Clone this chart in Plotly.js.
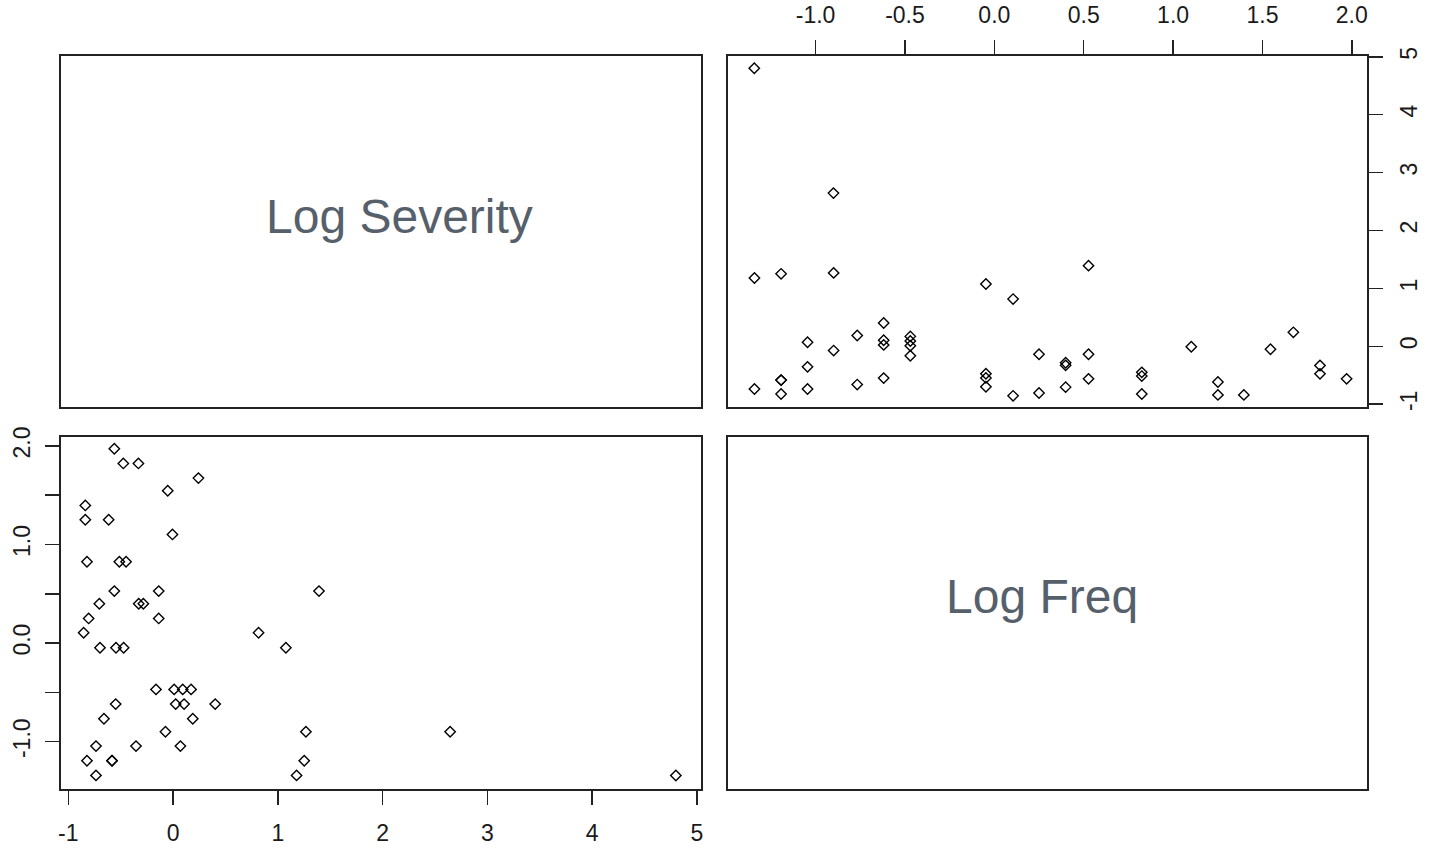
<!DOCTYPE html>
<html>
<head>
<meta charset="utf-8">
<script src="https://cdn.plot.ly/plotly-3.0.1.min.js"></script>
<style>
html,body{margin:0;padding:0;background:#fff;}
#chart{width:1429px;height:849px;}
</style>
</head>
<body>
<div id="chart"></div>
<script>
// Data: each point is (Log Severity, Log Freq)
const logSeverity = [
  -0.561, -0.475, -0.331, 0.242, -0.051, -0.838, -0.838, -0.615, -0.006,
  -0.822, -0.513, -0.449, -0.561, -0.137, 1.393, -0.704, -0.328, -0.284,
  -0.806, -0.137, -0.854, 0.816, -0.698, -0.545, -0.472, 1.077,
  -0.163, 0.010, 0.092, 0.172, -0.548, 0.025, 0.105, 0.402,
  -0.660, 0.188, -0.073, 1.268, 2.645, -0.736, -0.354, 0.070,
  -0.822, -0.583, -0.583, 1.252, -0.736, 1.179, 4.800
];
const logFreq = [
  1.971, 1.822, 1.822, 1.673, 1.545, 1.396, 1.251, 1.251, 1.102,
  0.825, 0.825, 0.825, 0.527, 0.527, 0.527, 0.399, 0.399, 0.399,
  0.250, 0.250, 0.105, 0.105, -0.047, -0.047, -0.047, -0.047,
  -0.470, -0.470, -0.470, -0.470, -0.619, -0.619, -0.619, -0.619,
  -0.767, -0.767, -0.899, -0.899, -0.900, -1.045, -1.045, -1.045,
  -1.193, -1.193, -1.193, -1.193, -1.342, -1.342, -1.343
];
const varNames = ["Log Severity", "Log Freq"];
const sevTicks = [-1, 0, 1, 2, 3, 4, 5];
const sevTickText = ["-1", "0", "1", "2", "3", "4", "5"];
const freqTicks = [-1, -0.5, 0, 0.5, 1, 1.5, 2];
const freqTickTextTop = ["-1.0", "-0.5", "0.0", "0.5", "1.0", "1.5", "2.0"];
const freqTickTextLeft = ["-1.0", "", "0.0", "", "1.0", "", "2.0"];

const W = 1429, H = 849;
const FONT = "Liberation Sans, Arial, sans-serif";
const px = v => v / W;
const py = v => 1 - v / H;

const marker = {symbol: "diamond-open", size: 8, color: "#000", line: {color: "#000", width: 1.4}};

const traces = [
  {type: "scatter", mode: "markers", x: logSeverity, y: logFreq, xaxis: "x", yaxis: "y", marker: marker, hoverinfo: "x+y"},
  {type: "scatter", mode: "markers", x: logFreq, y: logSeverity, xaxis: "x2", yaxis: "y2", marker: marker, hoverinfo: "x+y"}
];

const L = [61, 701], R = [728, 1367];
const T = [56, 407], B = [437, 789];

const base = {
  showgrid: false, zeroline: false, showline: true, mirror: true,
  linecolor: "#222", linewidth: 2,
  ticks: "outside", ticklen: 14, tickwidth: 1.6, tickcolor: "#222",
  tickfont: {family: FONT, size: 23, color: "#1a1a1a"}
};
const empty = Object.assign({}, base, {ticks: "", showticklabels: false, range: [0, 1], fixedrange: true});

const layout = {
  width: W, height: H,
  margin: {l: 0, r: 0, t: 0, b: 0},
  paper_bgcolor: "#fff", plot_bgcolor: "#fff",
  showlegend: false,
  font: {family: FONT},
  xaxis: Object.assign({}, base, {domain: [px(L[0]), px(L[1])], anchor: "y", side: "bottom",
    range: [-1.07, 5.04], tickmode: "array", tickvals: sevTicks, ticktext: sevTickText, ticklabelstandoff: 8}),
  yaxis: Object.assign({}, base, {domain: [py(B[1]), py(B[0])], anchor: "x", side: "left",
    range: [-1.48, 2.09], tickmode: "array", tickvals: freqTicks, ticktext: freqTickTextLeft, tickangle: -90, ticklabelstandoff: 6}),
  xaxis2: Object.assign({}, base, {domain: [px(R[0]), px(R[1])], anchor: "y2", side: "top",
    range: [-1.49, 2.085], tickmode: "array", tickvals: freqTicks, ticktext: freqTickTextTop, ticklabelstandoff: 8}),
  yaxis2: Object.assign({}, base, {domain: [py(T[1]), py(T[0])], anchor: "x2", side: "right",
    range: [-1.047, 5.012], tickmode: "array", tickvals: sevTicks, ticktext: sevTickText, tickangle: -90, ticklabelstandoff: 6}),
  xaxis3: Object.assign({}, empty, {domain: [px(L[0]), px(L[1])], anchor: "y3"}),
  yaxis3: Object.assign({}, empty, {domain: [py(T[1]), py(T[0])], anchor: "x3"}),
  xaxis4: Object.assign({}, empty, {domain: [px(R[0]), px(R[1])], anchor: "y4"}),
  yaxis4: Object.assign({}, empty, {domain: [py(B[1]), py(B[0])], anchor: "x4"}),
  annotations: [
    {text: varNames[0], xref: "paper", yref: "paper", x: px(400), y: py(216), xanchor: "center", yanchor: "middle",
     showarrow: false, font: {family: FONT, size: 48, color: "#56606b"}},
    {text: varNames[1], xref: "paper", yref: "paper", x: px(1042), y: py(596), xanchor: "center", yanchor: "middle",
     showarrow: false, font: {family: FONT, size: 48, color: "#56606b"}}
  ]
};

// empty traces so that the two label panels render their frames
traces.push({type: "scatter", mode: "markers", x: [], y: [], xaxis: "x3", yaxis: "y3", hoverinfo: "skip"});
traces.push({type: "scatter", mode: "markers", x: [], y: [], xaxis: "x4", yaxis: "y4", hoverinfo: "skip"});

Plotly.newPlot("chart", traces, layout, {displayModeBar: false, staticPlot: true});
</script>
</body>
</html>
